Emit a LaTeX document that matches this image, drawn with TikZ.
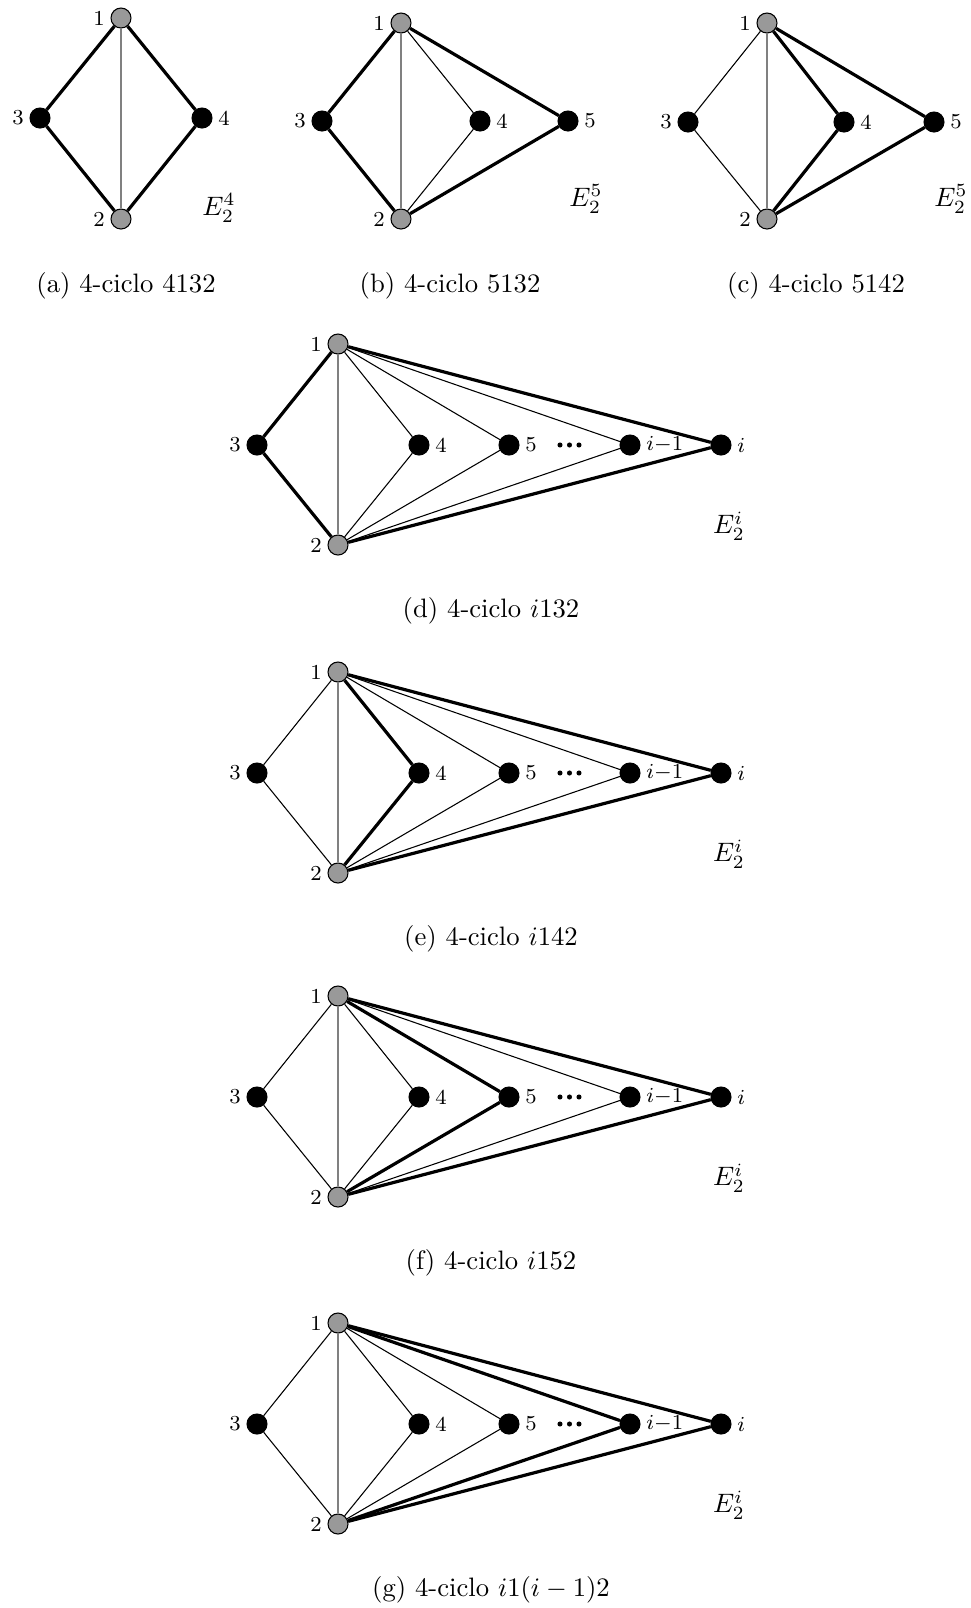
\documentclass[tikz,border=0pt]{standalone}
\usepackage{amsmath}
\tikzset{
  vb/.style={circle, fill=black, draw=black, line width=0.4pt, minimum size=7.5pt, inner sep=0pt},
  vg/.style={circle, fill=black!40, draw=black, line width=0.4pt, minimum size=7.5pt, inner sep=0pt},
  lbl/.style={font=\footnotesize, inner sep=2pt},
  thk/.style={line width=1.2pt, draw=black},
  thn/.style={line width=0.4pt, draw=black},
  grl/.style={line width=0.4pt, draw=gray},
  elbl/.style={font=\normalsize, inner sep=0pt},
  captxt/.style={font=\normalsize, anchor=base, inner sep=0pt},
}
\newcommand\bigpanel[2]{%
  \node[vg, label={[lbl]left:1}] (#1-1) at (338,0) {};
  \node[vb, label={[lbl]left:3}] (#1-3) at (257,101) {};
  \node[vb, label={[lbl]right:4}] (#1-4) at (419,101) {};
  \node[vb, label={[lbl]right:5}] (#1-5) at (509,101) {};
  \node[vb, label={[lbl]right:$i{-}1$}] (#1-m) at (630,101) {};
  \node[vb, label={[lbl]right:$i$}] (#1-i) at (721,101) {};
  \node[vg, label={[lbl]left:2}] (#1-2) at (338,201) {};
  \fill (560,101) circle[radius=0.95pt] (569.5,101) circle[radius=0.95pt] (579,101) circle[radius=0.95pt];
  \node[elbl] (#1-E) at (729,182) {$E_2^i$};
  \node[captxt] (#1-c) at (491,273) {#2};
  \draw[grl] (#1-1) -- (#1-2);
  \draw[ethree] (#1-1) -- (#1-3);
  \draw[ethree] (#1-3) -- (#1-2);
  \draw[efour] (#1-1) -- (#1-4);
  \draw[efour] (#1-4) -- (#1-2);
  \draw[efive] (#1-1) -- (#1-5);
  \draw[efive] (#1-5) -- (#1-2);
  \draw[em] (#1-1) -- (#1-m);
  \draw[em] (#1-m) -- (#1-2);
  \draw[thk] (#1-1) -- (#1-i);
  \draw[thk] (#1-i) -- (#1-2);
}
\begin{document}
\begin{tikzpicture}[x=0.375pt, y=-0.375pt]
\useasboundingbox (0,0) rectangle (971,1608);
% (a)
\node[vg, label={[lbl]left:1}] (a1) at (121,18) {};
\node[vb, label={[lbl]left:3}] (a3) at (40,118) {};
\node[vb, label={[lbl]right:4}] (a4) at (202,118) {};
\node[vg, label={[lbl]left:2}] (a2) at (121,219) {};
\node[elbl] (aE) at (219,208) {$E_2^4$};
\node[captxt] (acap) at (126,292) {(a) 4-ciclo 4132};
\draw[grl] (a1) -- (a2);
\draw[thk] (a1) -- (a3);
\draw[thk] (a3) -- (a2);
\draw[thk] (a1) -- (a4);
\draw[thk] (a4) -- (a2);
% (b)
\node[vg, label={[lbl]left:1}] (b1) at (401,23) {};
\node[vb, label={[lbl]left:3}] (b3) at (322,121) {};
\node[vb, label={[lbl]right:4}] (b4) at (480,121) {};
\node[vb, label={[lbl]right:5}] (b5) at (568,121) {};
\node[vg, label={[lbl]left:2}] (b2) at (401,219) {};
\node[elbl] (bE) at (586,199) {$E_2^5$};
\node[captxt] (bcap) at (450,292) {(b) 4-ciclo 5132};
\draw[grl] (b1) -- (b2);
\draw[thk] (b1) -- (b3);
\draw[thk] (b3) -- (b2);
\draw[thn] (b1) -- (b4);
\draw[thn] (b4) -- (b2);
\draw[thk] (b1) -- (b5);
\draw[thk] (b5) -- (b2);
% (c)
\node[vg, label={[lbl]left:1}] (c1) at (767,23) {};
\node[vb, label={[lbl]left:3}] (c3) at (688,122) {};
\node[vb, label={[lbl]right:4}] (c4) at (844,122) {};
\node[vb, label={[lbl]right:5}] (c5) at (934,122) {};
\node[vg, label={[lbl]left:2}] (c2) at (767,219) {};
\node[elbl] (cE) at (951,199) {$E_2^5$};
\node[captxt] (ccap) at (816,292) {(c) 4-ciclo 5142};
\draw[grl] (c1) -- (c2);
\draw[thn] (c1) -- (c3);
\draw[thn] (c3) -- (c2);
\draw[thk] (c1) -- (c4);
\draw[thk] (c4) -- (c2);
\draw[thk] (c1) -- (c5);
\draw[thk] (c5) -- (c2);
% (d)
\begin{scope}[shift={(0,344)}, ethree/.style=thk, efour/.style=thn, efive/.style=thn, em/.style=thn]
\bigpanel{d}{(d) 4-ciclo $i$132}
\end{scope}
% (e)
\begin{scope}[shift={(0,672)}, ethree/.style=thn, efour/.style=thk, efive/.style=thn, em/.style=thn]
\bigpanel{e}{(e) 4-ciclo $i$142}
\end{scope}
% (f)
\begin{scope}[shift={(0,996)}, ethree/.style=thn, efour/.style=thn, efive/.style=thk, em/.style=thn]
\bigpanel{f}{(f) 4-ciclo $i$152}
\end{scope}
% (g)
\begin{scope}[shift={(0,1323)}, ethree/.style=thn, efour/.style=thn, efive/.style=thn, em/.style=thk]
\bigpanel{g}{(g) 4-ciclo $i1(i-1)2$}
\end{scope}
\end{tikzpicture}
\end{document}
